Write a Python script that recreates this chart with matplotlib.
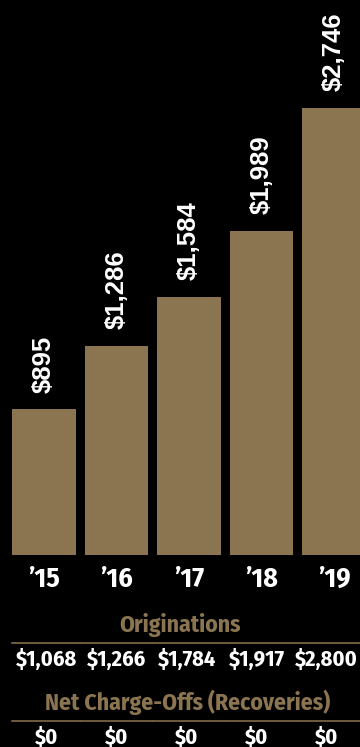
import matplotlib
matplotlib.use("Agg")
import matplotlib.pyplot as plt
import matplotlib.transforms as mtransforms
from matplotlib.lines import Line2D

years = ["\u201915", "\u201916", "\u201917", "\u201918", "\u201919"]
balances = [895, 1286, 1584, 1989, 2746]
originations = [1068, 1266, 1784, 1917, 2800]
net_charge_offs = [0, 0, 0, 0, 0]

GOLD = "#8b7550"
BG = "black"
NARROW = ["Fira Sans Condensed", "DejaVu Sans"]
WIDE = ["Liberation Sans", "DejaVu Sans"]

fig = plt.figure(figsize=(3.6, 7.47), dpi=100, facecolor=BG)
ax = fig.add_axes([0, 1 - 555 / 747, 1, 555 / 747])
ax.set_facecolor(BG)

xs = list(range(len(years)))
ax.bar(xs, balances, width=0.88, color=GOLD, edgecolor="none")
ax.set_xlim(-44 / 72.5, (360 - 44) / 72.5)
ax.set_ylim(0, 3407)
ax.axis("off")

for x, v in zip(xs, balances):
    ax.annotate(f"${v:,}", (x, v), xytext=(0, 12), textcoords="offset points",
                rotation=90, ha="center", va="bottom", color="white",
                fontsize=18.5, fontweight="bold", family=WIDE)

# text below the bars: x follows the bar positions, y is in figure units
tr = mtransforms.blended_transform_factory(ax.transData, fig.transFigure)

def fy(px):
    return 1 - px / 747

def label(x, y, s, color="white", size=16.5, transform=tr):
    fig.text(x, fy(y), s, transform=transform, ha="center", va="center",
             color=color, fontsize=size, fontweight="bold",
             family=NARROW, fontstretch="condensed")

for x, yr in zip(xs, years):
    label(x, 579, yr, size=20)

label(0.5, 625, "Originations", color=GOLD, size=17, transform=fig.transFigure)
label(0.522, 702, "Net Charge-Offs (Recoveries)", color=GOLD, size=17,
      transform=fig.transFigure)

for y_line in (643, 721):
    for x in xs:
        x0 = -0.44 if x == 0 else x - 0.49
        line = Line2D([x0, x + 0.49], [fy(y_line), fy(y_line)], transform=tr,
                      color=GOLD, linewidth=1.1)
        fig.add_artist(line)

# table columns sit a little tighter than the bars
cols = [0.04 + x * 0.965 for x in xs]
for c, v in zip(cols, originations):
    label(c, 659, f"${v:,}", size=16)

for c, v in zip(cols, net_charge_offs):
    label(c, 737, f"${v:,}", size=16)

fig.savefig("out.png", dpi=100, facecolor=BG)
